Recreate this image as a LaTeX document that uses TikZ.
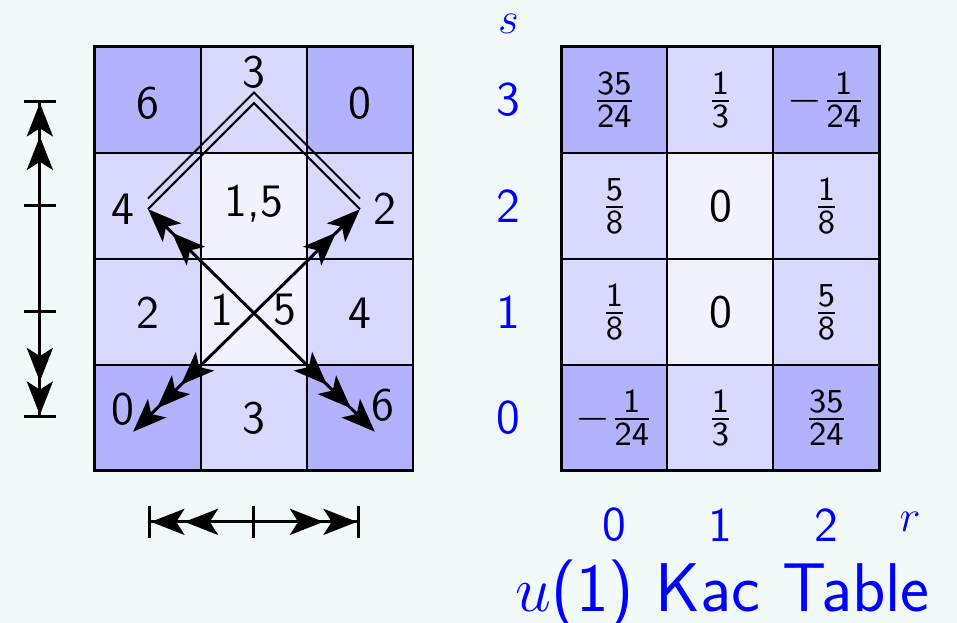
\documentclass[tikz,border=0pt]{standalone}
\usepackage{amsmath}
\usetikzlibrary{arrows.meta}
\renewcommand{\familydefault}{\sfdefault}
\definecolor{pagebg}{HTML}{F2FAF9}
\colorlet{kacdark}{blue!30}
\colorlet{kacmid}{blue!15}
\colorlet{kaclight}{blue!5}
\newcommand{\kfrac}[2]{$\frac{\mathsf{#1}}{\mathsf{#2}}$}
\newcommand{\kneg}[2]{$-\frac{\mathsf{#1}}{\mathsf{#2}}$}
\tikzset{kac/.tip={Stealth[length=9pt,width=7pt,inset=2.2pt]}}

\begin{document}
\begin{tikzpicture}[
  x=1cm, y=1cm,
  cell/.style={draw, line width=0.55pt, minimum size=1cm, inner sep=0pt,
    outer sep=0pt, anchor=south west},
  num/.style={font=\fontsize{12.5}{14}\selectfont},
  axis/.style={text=blue, font=\fontsize{13}{15}\selectfont},
  route/.style={line width=0.8pt},
  frame/.style={draw, line width=0.8pt}
]
  % Background and margins
  \path[fill=pagebg, use as bounding box] (-0.896,-1.434) rectangle (8.132,4.443);

  % Left table cells
  \foreach \i/\j/\c in {0/3/kacdark, 1/3/kacmid, 2/3/kacdark,
                        0/2/kacmid, 1/2/kaclight, 2/2/kacmid,
                        0/1/kacmid, 1/1/kaclight, 2/1/kacmid,
                        0/0/kacdark, 1/0/kacmid, 2/0/kacdark}
    \node[cell, fill=\c] (L\i\j) at (\i,\j) {};
  \draw[frame] (L03.north west) rectangle (L20.south east);

  % Right table (Kac table)
  \foreach \i/\j/\c/\t in {
      0/3/kacdark/\kfrac{35}{24}, 1/3/kacmid/\kfrac{1}{3}, 2/3/kacdark/\kneg{1}{24},
      0/2/kacmid/\kfrac{5}{8}, 1/2/kaclight/0, 2/2/kacmid/\kfrac{1}{8},
      0/1/kacmid/\kfrac{1}{8}, 1/1/kaclight/0, 2/1/kacmid/\kfrac{5}{8},
      0/0/kacdark/\kneg{1}{24}, 1/0/kacmid/\kfrac{1}{3}, 2/0/kacdark/\kfrac{35}{24}}
    \node[cell, fill=\c, num] (R\i\j) at (4.4+\i,\j) {\t};
  \draw[frame] (R03.north west) rectangle (R20.south east);

  % Axis labels
  \node[axis, inner sep=1pt] (s) at (3.9,4.22) {$s$};
  \foreach \j in {0,1,2,3}
    \node[axis] (s\j) at (3.9,\j+0.5) {\j};
  \foreach \i in {0,1,2}
    \node[axis] (r\i) at (4.9+\i,-0.51) {\i};
  \node[axis] (r) at (7.69,-0.48) {$r$};
  \node[text=blue, inner sep=0pt, font=\fontsize{18.5}{22}\selectfont] (title)
    at (5.92,-1.16) {$u$(1) Kac Table};

  % Points of the weight diagram
  \coordinate (top) at (1.5,3.47);
  \coordinate (w) at (0.5,2.47);
  \coordinate (e) at (2.5,2.47);
  \coordinate (sw) at (0.36,0.37);
  \coordinate (se) at (2.64,0.37);

  % Double roof
  \draw[line width=0.55pt] (w) -- (top) -- (e);
  \draw[line width=0.55pt] ([yshift=1mm]w) -- ([yshift=1mm]top) -- ([yshift=1mm]e);

  % Crossing arrows
  \draw[route, {kac[]kac[]kac[]}-{kac[]kac[]}] (sw) -- (e);
  \draw[route, {kac[]kac[]}-{kac[]kac[]kac[]}] (w) -- (se);

  % Labels in the left table
  \node[num] (n6a) at (0.5,3.47) {6};
  \node[num] (n3a) at (1.5,3.76) {3};
  \node[num] (n0a) at (2.5,3.47) {0};
  \node[num, left] (n4a) at (w) {4};
  \node[num] (n15) at (1.5,2.52) {1,5};
  \node[num, right] (n2a) at (e) {2};
  \node[num] (n2b) at (0.5,1.49) {2};
  \node[num] (n1) at (1.2,1.52) {1};
  \node[num] (n5) at (1.79,1.52) {5};
  \node[num] (n4b) at (2.5,1.49) {4};
  \node[num] (n0b) at (0.26,0.58) {0};
  \node[num] (n3b) at (1.5,0.5) {3};
  \node[num] (n6b) at (2.72,0.62) {6};

  % Dimension lines
  \coordinate (vtop) at (-0.52,3.5);
  \coordinate (vbot) at (-0.52,0.5);
  \coordinate (hleft) at (0.5,-0.48);
  \coordinate (hright) at (2.5,-0.48);
  \draw[route, {Bar[width=8.6pt]kac[]kac[]}-{kac[]kac[]Bar[width=8.6pt]}] (vtop) -- (vbot);
  \draw[route, {Bar[width=8.6pt]kac[]kac[]}-{kac[]kac[]Bar[width=8.6pt]}] (hleft) -- (hright);
  \foreach \y in {1.5,2.5}
    \draw[route] (-0.52,\y) ++(-4.3pt,0) -- ++(8.6pt,0);
  \draw[route] (1.5,-0.48) ++(0,-4.3pt) -- ++(0,8.6pt);
\end{tikzpicture}
\end{document}
